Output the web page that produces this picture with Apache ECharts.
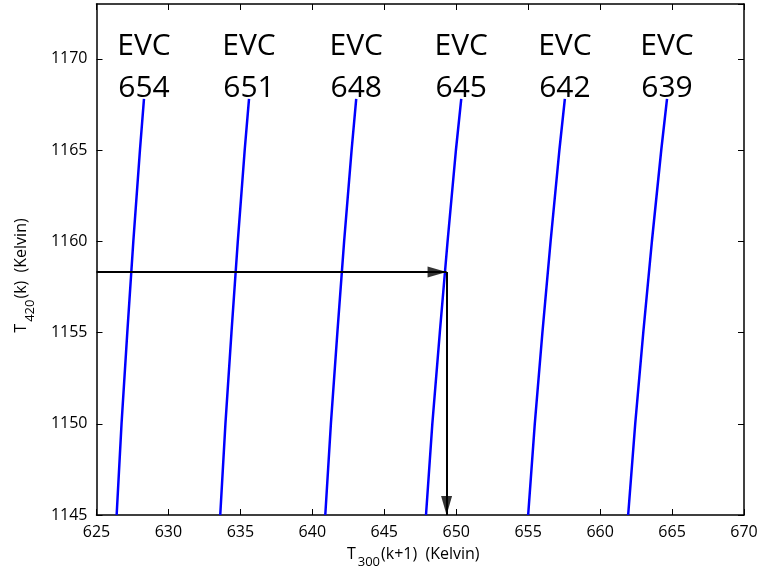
<!DOCTYPE html>
<html>
<head>
<meta charset="utf-8">
<script src="https://cdn.jsdelivr.net/npm/echarts@6/dist/echarts.min.js"></script>
<style>
  html, body { margin: 0; padding: 0; background: #fff; }
  #chart { width: 759px; height: 569px; }
</style>
</head>
<body>
<div id="chart"></div>
<script>
// Operating-curve temperatures T420(k) at which each curve is sampled
const tempLevels = [1145, 1150, 1155, 1160, 1165, 1167.8];

// EVC settings labelling each curve
const evcNames = ['654', '651', '648', '645', '642', '639'];

// T300(k+1) for each curve, one value per entry of tempLevels
const evc654 = [626.40, 626.74, 627.14, 627.56, 628.02, 628.30];
const evc651 = [633.60, 633.96, 634.38, 634.82, 635.30, 635.60];
const evc648 = [640.90, 641.29, 641.74, 642.21, 642.73, 643.05];
const evc645 = [647.90, 648.34, 648.86, 649.40, 649.98, 650.35];
const evc642 = [655.00, 655.46, 655.99, 656.56, 657.17, 657.55];
const evc639 = [661.95, 662.44, 663.00, 663.60, 664.25, 664.65];
const evcCurves = [evc654, evc651, evc648, evc645, evc642, evc639];

// Read-off path: from the measured T420 across to the curve, then down to T300
const readT420 = 1158.32;
const readT300 = 649.33;

// Axis ranges: [min, max, interval]
const xTicks = [625, 670, 5];
const yTicks = [1145, 1173, 5];

const FONT = 'Open Sans';
const HEAD_W = 11;
const HEAD_L = 19;

const curveSeries = evcCurves.map((xs, ci) => ({
  type: 'line',
  name: 'EVC ' + evcNames[ci],
  data: tempLevels.map((y, i) => [xs[i], y]),
  smooth: false,
  showSymbol: false,
  symbol: 'none',
  lineStyle: { color: '#0000ff', width: 2.5 },
  z: 3
}));

// Curve names written just above the top end of each curve
const labelSeries = {
  type: 'scatter',
  symbol: 'circle',
  symbolSize: 0,
  itemStyle: { color: '#000', opacity: 1 },
  data: evcCurves.map((xs, ci) => ({
    value: [xs[xs.length - 1], tempLevels[tempLevels.length - 1]],
    name: evcNames[ci]
  })),
  label: {
    show: true,
    position: 'top',
    distance: 0,
    offset: [0, 11],
    formatter: (p) => 'EVC\n' + p.name,
    fontFamily: FONT,
    fontSize: 30,
    lineHeight: 42,
    color: '#000',
    opacity: 1,
    align: 'center'
  },
  emphasis: { disabled: true },
  silent: true,
  z: 5
};

// Shafts of the read-off arrows
const shaftSeries = {
  type: 'lines',
  coordinateSystem: 'cartesian2d',
  symbol: ['none', 'none'],
  lineStyle: { color: '#000', width: 2, opacity: 1 },
  data: [
    { coords: [[xTicks[0], readT420], [readT300, readT420]] },
    { coords: [[readT300, readT420], [readT300, yTicks[0]]] }
  ],
  z: 4
};

// Arrowheads, tip placed exactly on each shaft's end point
const headSeries = {
  type: 'scatter',
  symbol: 'triangle',
  symbolSize: [HEAD_W, HEAD_L],
  itemStyle: { color: '#000' },
  data: [
    { value: [readT300, readT420], symbolRotate: -90, symbolOffset: [-HEAD_L / 2, 0] },
    { value: [readT300, yTicks[0]], symbolRotate: 180, symbolOffset: [0, -HEAD_L / 2] }
  ],
  silent: true,
  z: 6
};

const axisCommon = {
  axisLine: { show: true, lineStyle: { color: '#000', width: 1.5 } },
  axisTick: { show: true, inside: true, length: 6, lineStyle: { color: '#000', width: 1 } },
  splitLine: { show: false }
};

const nameRich = {
  t: { fontFamily: FONT, fontSize: 16, color: '#000' },
  s: { fontFamily: FONT, fontSize: 13, color: '#000', verticalAlign: 'top', padding: [17, 1, 0, 2] }
};

const option = {
  backgroundColor: '#fff',
  animation: false,
  grid: { left: 96.5, right: 15, top: 4, bottom: 54, containLabel: false, outerBoundsMode: 'none' },
  xAxis: [
    Object.assign({}, axisCommon, {
      type: 'value',
      min: xTicks[0], max: xTicks[1], interval: xTicks[2],
      position: 'bottom',
      axisLabel: { color: '#000', fontFamily: FONT, fontSize: 16, margin: 9, formatter: (v) => String(v) },
      name: '{t|T}{s|300}{t|(k+1)  (Kelvin)}',
      nameLocation: 'middle',
      nameGap: 24,
      nameTextStyle: { rich: nameRich, padding: [0, 14, 0, 0] }
    }),
    Object.assign({}, axisCommon, {
      type: 'value',
      min: xTicks[0], max: xTicks[1], interval: xTicks[2],
      position: 'top',
      axisLabel: { show: false }
    })
  ],
  yAxis: [
    Object.assign({}, axisCommon, {
      type: 'value',
      min: yTicks[0], max: yTicks[1], interval: yTicks[2],
      position: 'left',
      axisLabel: { color: '#000', fontFamily: FONT, fontSize: 16, margin: 9, showMaxLabel: false, formatter: (v) => String(v) },
      name: '{t|T}{s|420}{t|(k)  (Kelvin)}',
      nameLocation: 'middle',
      nameGap: 60,
      nameTextStyle: { rich: nameRich, padding: [0, 32, 0, 0] }
    }),
    Object.assign({}, axisCommon, {
      type: 'value',
      min: yTicks[0], max: yTicks[1], interval: yTicks[2],
      position: 'right',
      axisLabel: { show: false }
    })
  ],
  series: curveSeries.concat([labelSeries, shaftSeries, headSeries])
};

const chart = echarts.init(document.getElementById('chart'), null, { renderer: 'canvas' });
chart.setOption(option);
</script>
</body>
</html>
